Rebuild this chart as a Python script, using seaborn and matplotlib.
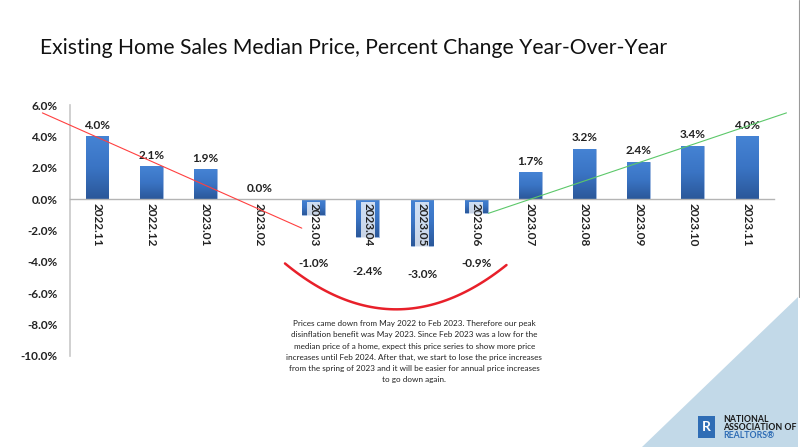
import numpy as np
import pandas as pd
import matplotlib.pyplot as plt
import seaborn as sns
from matplotlib.patches import Polygon, Rectangle

months = ['2022.11', '2022.12', '2023.01', '2023.02', '2023.03', '2023.04', '2023.05',
          '2023.06', '2023.07', '2023.08', '2023.09', '2023.10', '2023.11']
pct_change = [4.0, 2.1, 1.9, 0.0, -1.0, -2.4, -3.0, -0.9, 1.7, 3.2, 2.4, 3.4, 4.0]
yticks = [6, 4, 2, 0, -2, -4, -6, -8, -10]

title = 'Existing Home Sales Median Price, Percent Change Year-Over-Year'
note = ('Prices came down from May 2022 to Feb 2023. Therefore our peak\n'
        'disinflation benefit was May 2023. Since Feb 2023 was a low for the\n'
        'median price of a home, expect this price series to show more price\n'
        'increases until Feb 2024. After that, we start to lose the price increases\n'
        'from the spring of 2023 and it will be easier for annual price increases\n'
        'to go down again.')

# hand-drawn trend lines (category units, percent)
down_trend = ([-1.01, 3.78], [5.5, -1.85])
up_trend = ([7.23, 12.73], [-0.9, 5.5])
trough = [(3.47, -4.1), (5.5, -9.9), (7.56, -4.2)]

sns.set_style('white')
plt.rcParams['font.family'] = ['Lato', 'DejaVu Sans']

df = pd.DataFrame({'month': months, 'pct': pct_change})

fig = plt.figure(figsize=(8, 4.47), dpi=100)
ax = fig.add_axes([0.0875, 0.2036, 0.88, 0.5614])

sns.barplot(df, x='month', y='pct', ax=ax, color='#3a6fbf', width=0.42,
            saturation=1, edgecolor='#9db8e0', linewidth=0.6)

# vertical gradient on each bar, lighter at the top
grad = np.linspace(0, 1, 64).reshape(-1, 1)
cmap = sns.blend_palette(['#2b589a', '#3a74c4', '#4583d4'], as_cmap=True)
for p in ax.patches:
    x0, y0 = p.get_x(), p.get_y()
    w, h = p.get_width(), p.get_height()
    if h == 0:
        continue
    lo, hi = min(y0, y0 + h), max(y0, y0 + h)
    im = ax.imshow(grad, extent=[x0, x0 + w, lo, hi], origin='lower', cmap=cmap,
                   aspect='auto', zorder=p.get_zorder() + 0.1)
    im.set_clip_path(p)

ax.set_xlim(-0.5, len(months) - 0.5)
ax.set_ylim(-10, 6)
ax.set_xlabel('')
ax.set_ylabel('')

# axes: y spine at left, x spine at zero
for s in ['top', 'right']:
    ax.spines[s].set_visible(False)
ax.spines['left'].set_color('#c8c8c8')
ax.spines['left'].set_linewidth(1.2)
ax.spines['bottom'].set_position(('data', 0))
ax.spines['bottom'].set_color('#b4b4b4')
ax.spines['bottom'].set_linewidth(1.0)
ax.set_xticks(np.arange(-0.5, len(months), 1.0))
ax.set_xticklabels([])
ax.tick_params(axis='x', direction='out', length=4, color='#b4b4b4', width=0.8)
ax.set_yticks(yticks)
ax.set_yticklabels([f'{v:.1f}%' for v in yticks], fontsize=8.5, fontweight='bold', color='#222222')
ax.tick_params(axis='y', direction='out', length=3, color='#b4b4b4', width=0.8, pad=6)

for i, (m, v) in enumerate(zip(months, pct_change)):
    ax.text(i, -0.25, m, rotation=270, ha='center', va='top', fontsize=8.5,
            fontweight='bold', color='#222222', zorder=5,
            bbox=dict(boxstyle='square,pad=0.1', fc='white', ec='none', alpha=0.75))
    ly = v + 0.35 if v >= 0 else -3.8 + 0.33 * v
    ax.text(i, ly, f'{v:.1f}%', ha='center', va='bottom' if v >= 0 else 'center',
            fontsize=8.5, fontweight='bold', color='#222222', zorder=5)

ax.plot(*down_trend, color='#ff4040', lw=0.8, clip_on=False, zorder=6)
ax.plot(*up_trend, color='#5cc86a', lw=0.8, clip_on=False, zorder=6)
t = np.linspace(0, 1, 60)
(px0, py0), (px1, py1), (px2, py2) = trough
bx = (1 - t) ** 2 * px0 + 2 * (1 - t) * t * px1 + t ** 2 * px2
by = (1 - t) ** 2 * py0 + 2 * (1 - t) * t * py1 + t ** 2 * py2
ax.plot(bx, by, color='#e8202a', lw=1.8, clip_on=False, zorder=6)

fig.text(0.05, 0.893, title, fontsize=15.2, color='#111111', va='center', ha='left')
fig.text(0.518, 0.284, note, fontsize=5.9, color='#222222', ha='center', va='top',
         linespacing=1.7)

# corner decoration and logo
fig.patches.append(Polygon([(0.997, 0.336), (0.997, 0.0), (0.803, 0.0)], closed=True,
                           transform=fig.transFigure, fc='#c2d9e8', ec='none', zorder=0))
fig.add_artist(plt.Line2D([0.999, 0.999], [1.0, 0.336], transform=fig.transFigure,
                          color='#9a9a9a', lw=0.8))
fig.patches.append(Rectangle((0.8725, 0.02), 0.0215, 0.049, transform=fig.transFigure,
                             fc='#2f6db5', ec='none', zorder=3))
fig.text(0.8832, 0.0445, 'R', fontsize=10, fontweight='bold', color='white',
         ha='center', va='center', zorder=4)
fig.text(0.9035, 0.062, 'NATIONAL', fontsize=6.3, fontweight='bold', color='#1a1a1a', va='center')
fig.text(0.9035, 0.044, 'ASSOCIATION OF', fontsize=6.3, fontweight='bold', color='#1a1a1a', va='center')
fig.text(0.9035, 0.026, 'REALTORS®', fontsize=6.3, fontweight='bold', color='#2f6db5', va='center')

fig.savefig('out.png', dpi=100)
plt.close()
